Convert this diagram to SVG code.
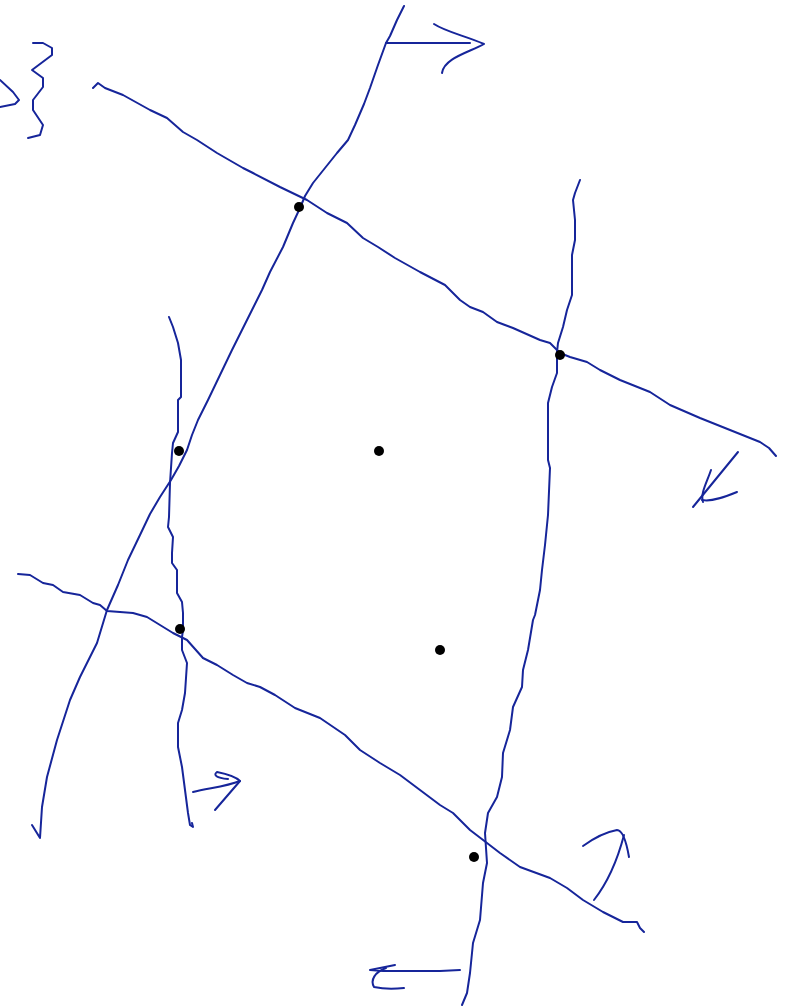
<svg xmlns="http://www.w3.org/2000/svg" width="787" height="1008" viewBox="0 0 787 1008">
<style>
.ink{fill:none;stroke:#16259a;stroke-width:2;stroke-linecap:round;stroke-linejoin:round}
.dot{fill:#000}
</style>
<rect width="787" height="1008" fill="#fff"/>
<g id="connectors">
<path id="lineA" class="ink" d="M404,6 L397,20 L390,36 L386,43 L378,65 L370,88 L364,104 L355,125 L348,140 L337,153 L325,168 L313,183 L305,196 L300,208 L293,223 L283,247 L270,272 L262,290 L252,310 L242,330 L232,350 L220,375 L208,400 L198,420 L192,435 L187,450 L179,466 L171,480 L160,497 L150,514 L140,535 L128,560 L118,585 L107,610 L97,643 L80,677 L70,700 L57,740 L47,777 L42,807 L40,838 L32,825"/>
<path id="lineB" class="ink" d="M93,88 L98,83 L105,88 L123,95 L150,110 L167,118 L183,132 L197,140 L217,153 L243,168 L253,173 L280,187 L307,200 L327,213 L347,223 L363,238 L378,247 L395,258 L420,272 L445,285 L460,300 L470,307 L483,312 L497,322 L513,328 L540,340 L550,343 L557,350 L560,353 L570,357 L587,362 L600,370 L620,380 L650,392 L670,405 L700,418 L730,430 L760,442 L769,448 L776,456"/>
<path id="lineC" class="ink" d="M580,180 L575,193 L573,200 L575,220 L575,240 L572,255 L572,295 L567,310 L563,327 L558,343 L557,352 L557,373 L552,387 L548,403 L548,460 L550,468 L548,515 L545,545 L542,570 L540,590 L535,615 L533,620 L528,650 L523,670 L522,687 L513,707 L510,730 L503,753 L502,777 L497,797 L488,813 L485,833 L487,863 L483,883 L480,920 L473,943 L470,973 L467,993 L462,1005"/>
<path id="lineD" class="ink" d="M169,317 L173,327 L178,343 L181,360 L181,397 L178,400 L178,432 L173,443 L172,453 L170,483 L169,517 L168,527 L173,537 L172,553 L172,563 L177,570 L177,593 L182,602 L183,613 L183,630 L182,637 L182,650 L187,663 L185,693 L182,710 L178,723 L178,747 L182,767 L185,790 L188,813 L190,825 L193,827 L192,823"/>
<path id="lineE" class="ink" d="M18,574 L30,575 L43,583 L53,585 L63,592 L80,595 L93,603 L100,605 L107,611 L133,613 L147,617 L160,625 L173,633 L187,640 L203,658 L217,665 L233,675 L247,683 L260,687 L275,695 L295,708 L320,718 L345,735 L360,750 L380,763 L400,775 L420,790 L440,805 L453,813 L470,830 L487,843 L500,853 L520,867 L550,878 L567,888 L583,900 L603,912 L623,922 L637,922 L640,928 L644,932"/>
</g>
<g id="arrow-top">
<path class="ink" d="M386,43 L470,43"/>
<path class="ink" d="M434,24 C446,32 466,36 484,44 C470,52 444,58 442,73"/>
</g>
<g id="arrow-right">
<path class="ink" d="M738,452 L693,507"/>
<path class="ink" d="M711,470 C707,482 700,494 703,502"/>
<path class="ink" d="M737,492 C725,497 712,502 702,500"/>
</g>
<g id="arrow-lower-left">
<path class="ink" d="M193,792 C208,788 225,787 240,781"/>
<path class="ink" d="M215,810 L240,781 C235,776 227,774 217,772 C213,775 216,778 228,779"/>
</g>
<g id="arrow-lower-right">
<path class="ink" d="M594,900 C608,882 618,858 624,835"/>
<path class="ink" d="M583,846 C594,838 606,832 617,830 C622,830 626,840 629,857"/>
</g>
<g id="arrow-bottom">
<path class="ink" d="M460,970 L440,971 L383,971 L370,970 L395,965"/>
<path class="ink" d="M386,968 C375,972 370,980 374,987 C383,989 395,989 404,988"/>
</g>
<g id="squiggle">
<path class="ink" d="M33,43 L43,43 L52,48 L52,55 L32,70 L43,78 L43,87 L33,100 L33,110 L43,125 L40,135 L28,138"/>
<path class="ink" d="M0,80 L13,92 L19,100 L15,104 L0,107"/>
</g>
<g id="dots">
<circle id="p1" class="dot" cx="299" cy="207" r="5"/>
<circle id="p2" class="dot" cx="560" cy="355" r="5"/>
<circle id="p3" class="dot" cx="179" cy="451" r="5"/>
<circle id="p4" class="dot" cx="379" cy="451" r="5"/>
<circle id="p5" class="dot" cx="180" cy="629" r="5"/>
<circle id="p6" class="dot" cx="440" cy="650" r="5"/>
<circle id="p7" class="dot" cx="474" cy="857" r="5"/>
</g>
</svg>
